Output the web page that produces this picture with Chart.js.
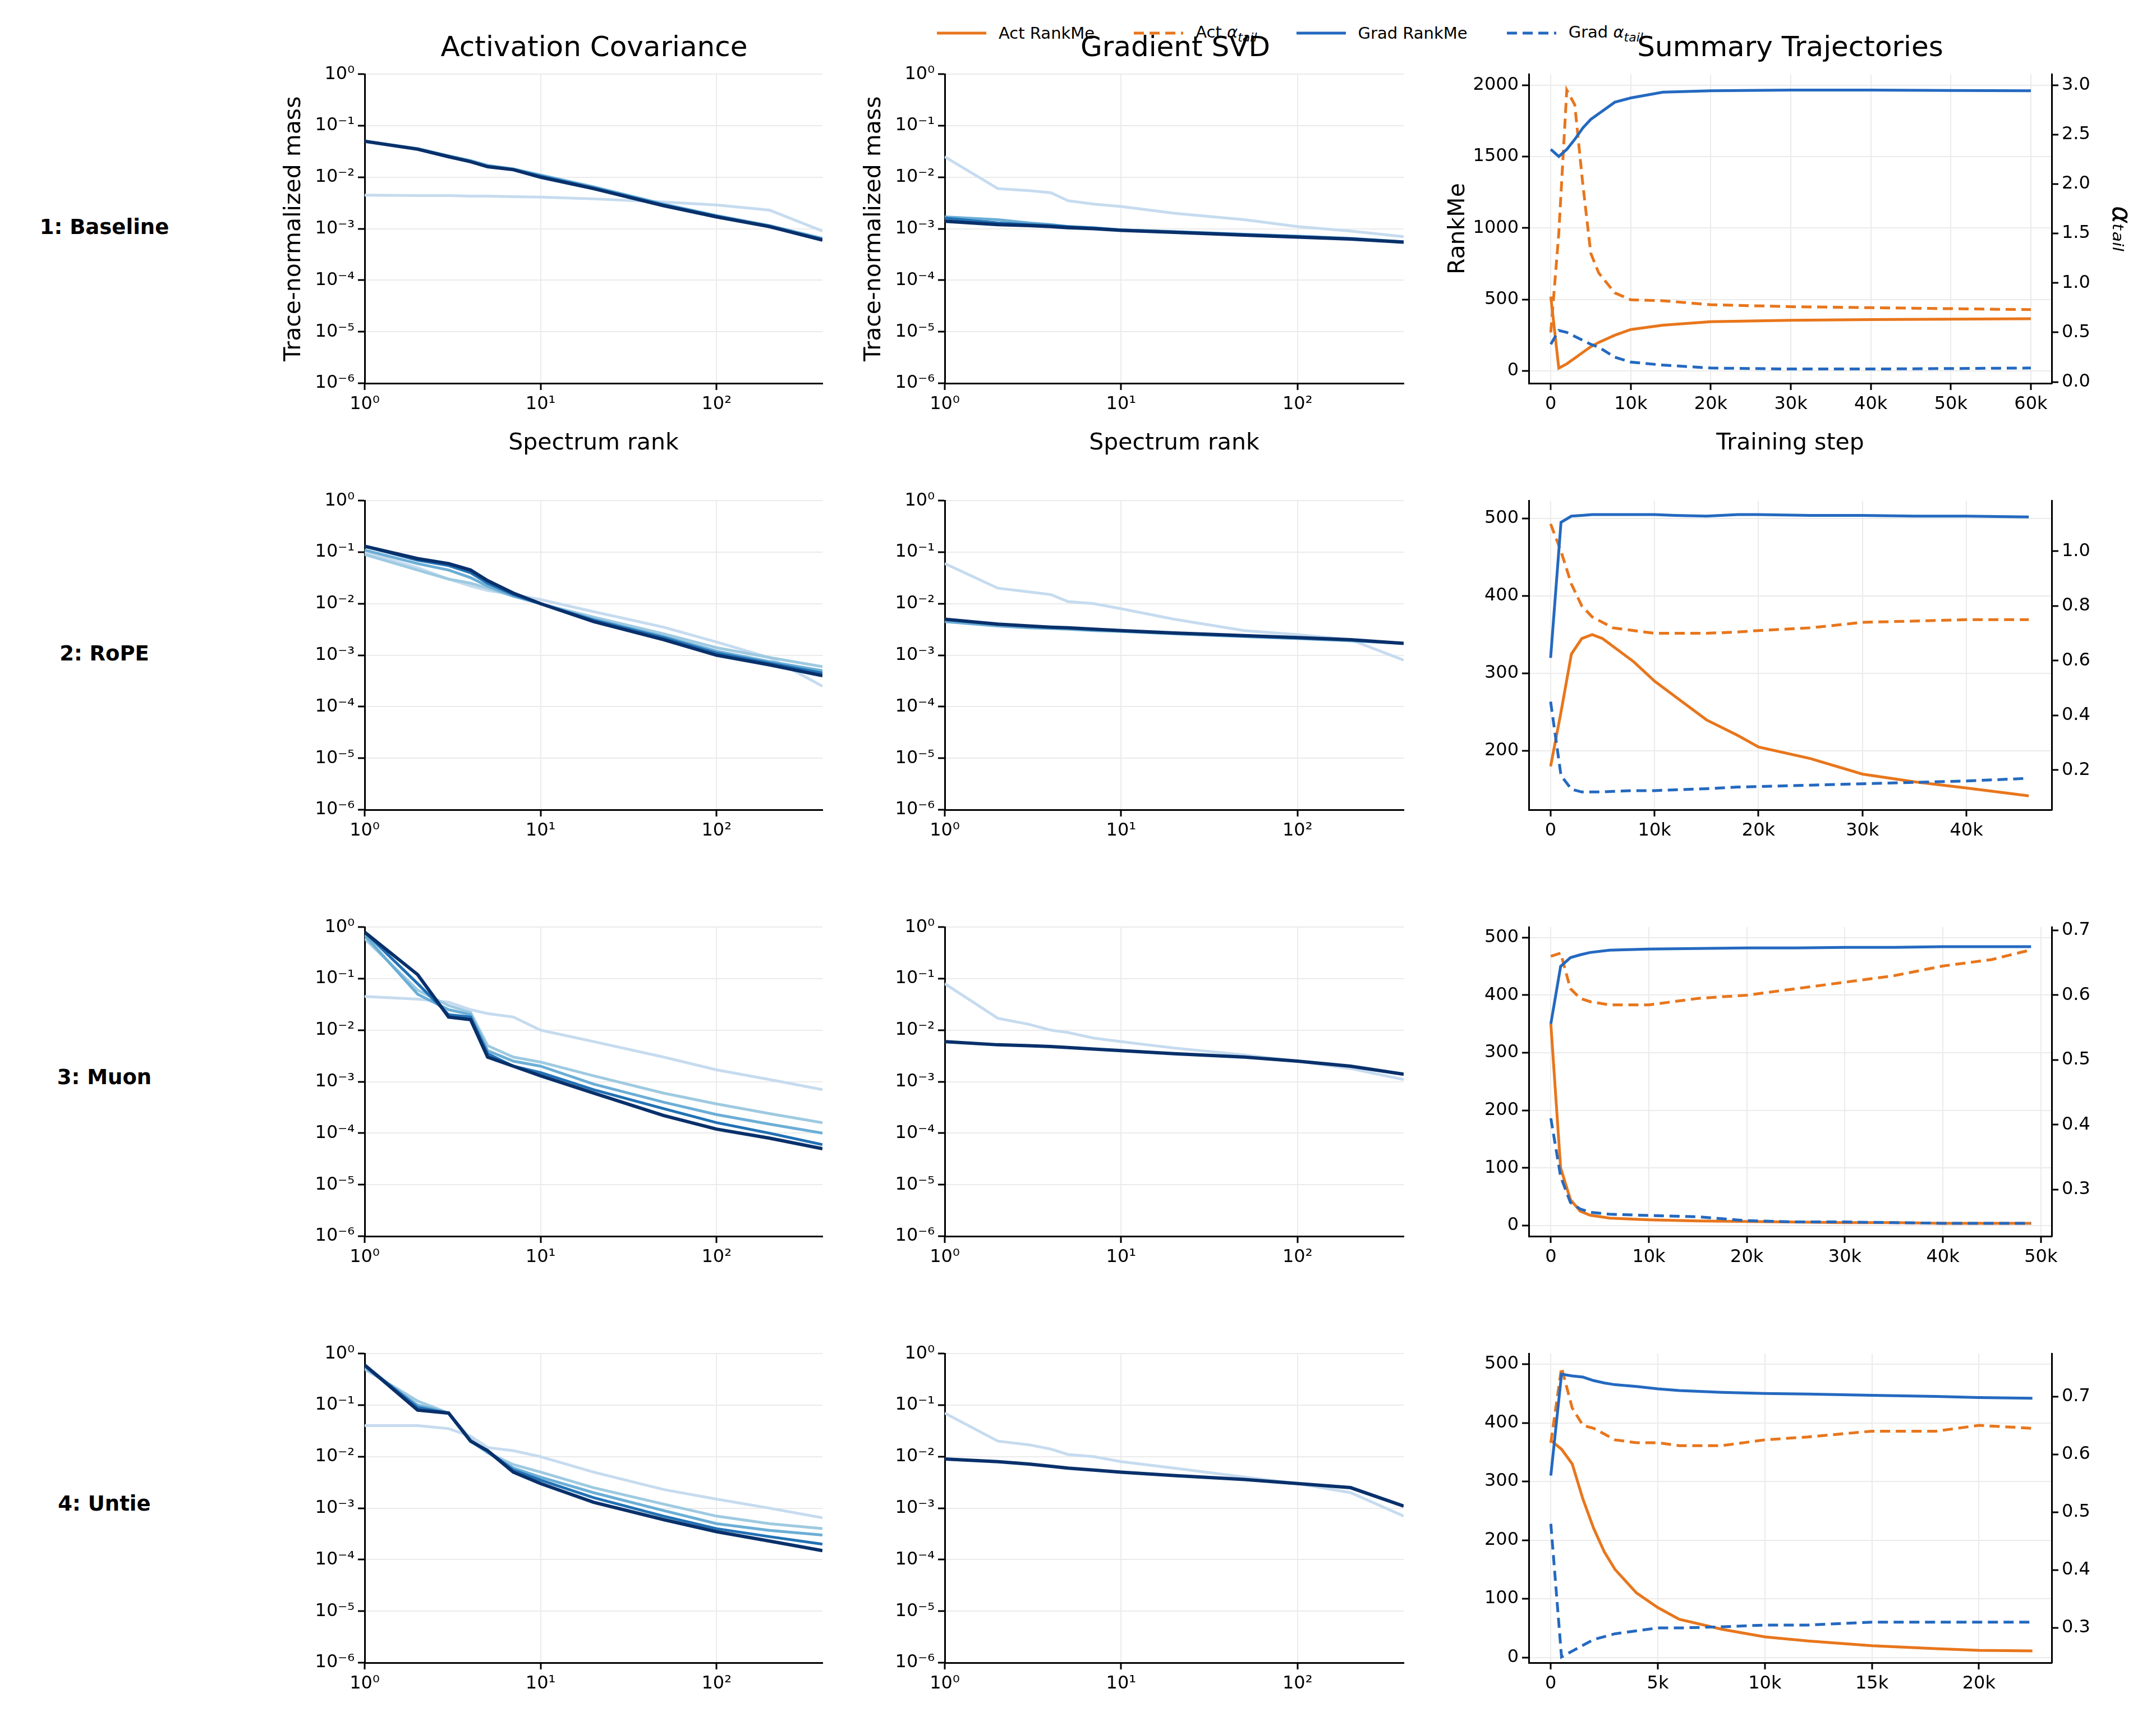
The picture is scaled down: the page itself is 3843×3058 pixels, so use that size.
<!DOCTYPE html>
<html><head><meta charset="utf-8">
<script src="https://cdn.jsdelivr.net/npm/chart.js@4/dist/chart.umd.min.js"></script>
<style>
body{margin:0;background:#fff;width:3843px;height:3058px;position:relative;font-family:"DejaVu Sans",sans-serif;overflow:hidden}
.abs{position:absolute;white-space:nowrap}
.ct{font-size:50px;transform:translate(-50%,-50%)}
.rl{font-size:37px;font-weight:bold;transform:translate(-50%,-50%)}
#leg{left:1670px;top:40px;display:flex;gap:70px;font-size:29px;align-items:center}
#leg>span{display:flex;align-items:center;gap:22px}
sub{font-size:22px}
</style></head><body>
<div class="abs ct" style="left:1059px;top:83px">Activation Covariance</div>
<div class="abs ct" style="left:2095px;top:83px">Gradient SVD</div>
<div class="abs ct" style="left:3191px;top:83px">Summary Trajectories</div>
<div class="abs rl" style="left:186px;top:404px">1: Baseline</div>
<div class="abs rl" style="left:186px;top:1164px">2: RoPE</div>
<div class="abs rl" style="left:186px;top:1919px">3: Muon</div>
<div class="abs rl" style="left:186px;top:2679px">4: Untie</div>
<div id="leg" class="abs">
<span><svg width="88" height="12"><line x1="0" y1="6" x2="88" y2="6" stroke="#e8761c" stroke-width="5"/></svg><span>Act RankMe</span></span>
<span><svg width="88" height="12"><line x1="0" y1="6" x2="88" y2="6" stroke="#e8761c" stroke-width="5" stroke-dasharray="18,10"/></svg><span>Act <i>α<sub>tail</sub></i></span></span>
<span><svg width="88" height="12"><line x1="0" y1="6" x2="88" y2="6" stroke="#2469c0" stroke-width="5"/></svg><span>Grad RankMe</span></span>
<span><svg width="88" height="12"><line x1="0" y1="6" x2="88" y2="6" stroke="#2469c0" stroke-width="5" stroke-dasharray="18,10"/></svg><span>Grad <i>α<sub>tail</sub></i></span></span>
</div>
<script>
const ranks=[1,2,3,4,5,7,10,20,50,100,200,400];
// Row 1
const a1_1=[4.5e-3,4.4e-3,4.4e-3,4.3e-3,4.3e-3,4.2e-3,4.1e-3,3.8e-3,3.3e-3,2.9e-3,2.3e-3,9e-4];
const a1_2=[5e-2,3.6e-2,2.6e-2,2.1e-2,1.7e-2,1.45e-2,1.1e-2,6.5e-3,3e-3,1.8e-3,1.15e-3,6.5e-4];
const a1_3=[5e-2,3.5e-2,2.5e-2,2e-2,1.6e-2,1.4e-2,1.05e-2,6.2e-3,2.9e-3,1.75e-3,1.1e-3,6.2e-4];
const a1_4=[5e-2,3.5e-2,2.5e-2,2e-2,1.6e-2,1.4e-2,1e-2,6e-3,2.8e-3,1.7e-3,1.1e-3,6e-4];
const g1_1=[2.5e-2,6e-3,5.5e-3,5e-3,3.5e-3,3e-3,2.7e-3,2e-3,1.5e-3,1.1e-3,9e-4,7e-4];
const g1_2=[1.7e-3,1.5e-3,1.3e-3,1.2e-3,1.1e-3,1.05e-3,9.5e-4,8.8e-4,7.8e-4,7.2e-4,6.5e-4,5.6e-4];
const g1_3=[1.6e-3,1.3e-3,1.2e-3,1.15e-3,1.1e-3,1.03e-3,9.5e-4,8.7e-4,7.7e-4,7e-4,6.4e-4,5.5e-4];
const g1_4=[1.4e-3,1.2e-3,1.15e-3,1.1e-3,1.05e-3,1e-3,9.3e-4,8.5e-4,7.5e-4,6.9e-4,6.3e-4,5.5e-4];
// Row 2
const a2_1=[1e-1,5e-2,3e-2,2.2e-2,1.8e-2,1.5e-2,1.2e-2,7e-3,3.5e-3,1.8e-3,9e-4,2.5e-4];
const a2_2=[9e-2,4.5e-2,3e-2,2.5e-2,2e-2,1.4e-2,1e-2,5.5e-3,2.6e-3,1.4e-3,9e-4,6e-4];
const a2_3=[1.1e-1,6e-2,4.5e-2,3.2e-2,2.2e-2,1.4e-2,1e-2,5e-3,2.3e-3,1.2e-3,7.5e-4,5e-4];
const a2_4=[1.3e-1,7e-2,5.5e-2,4e-2,2.5e-2,1.5e-2,1e-2,4.8e-3,2.2e-3,1.1e-3,7e-4,4.5e-4];
const a2_5=[1.3e-1,7.5e-2,6e-2,4.5e-2,2.8e-2,1.6e-2,1e-2,4.5e-3,2e-3,1e-3,6.5e-4,4e-4];
const g2_1=[6e-2,2e-2,1.7e-2,1.5e-2,1.1e-2,1e-2,8e-3,5e-3,3e-3,2.5e-3,2e-3,8e-4];
const g2_2=[4.5e-3,3.7e-3,3.4e-3,3.3e-3,3.2e-3,3e-3,2.9e-3,2.6e-3,2.3e-3,2.1e-3,1.9e-3,1.7e-3];
const g2_3=[5e-3,4e-3,3.7e-3,3.5e-3,3.4e-3,3.2e-3,3e-3,2.7e-3,2.4e-3,2.2e-3,2e-3,1.7e-3];
// Row 3
const a3_1=[4.5e-2,4e-2,3.5e-2,2.5e-2,2.1e-2,1.8e-2,1e-2,6e-3,3e-3,1.7e-3,1.1e-3,7e-4];
const a3_2=[6e-1,6e-2,3e-2,2.2e-2,5e-3,3e-3,2.4e-3,1.3e-3,6e-4,3.7e-4,2.4e-4,1.6e-4];
const a3_3=[7e-1,5e-2,2.5e-2,2e-2,4e-3,2.5e-3,2e-3,9e-4,4e-4,2.3e-4,1.5e-4,1e-4];
const a3_4=[8e-1,8e-2,2e-2,1.8e-2,3.5e-3,2e-3,1.5e-3,7e-4,3e-4,1.6e-4,1e-4,6e-5];
const a3_5=[8e-1,1.2e-1,1.8e-2,1.6e-2,3e-3,2e-3,1.3e-3,6e-4,2.2e-4,1.2e-4,8e-5,5e-5];
const g3_1=[8e-2,1.7e-2,1.3e-2,1e-2,9e-3,7e-3,6e-3,4.5e-3,3.3e-3,2.5e-3,1.8e-3,1.1e-3];
const g3_2=[6e-3,5.2e-3,5e-3,4.8e-3,4.6e-3,4.3e-3,4e-3,3.5e-3,3e-3,2.5e-3,2e-3,1.4e-3];
// Row 4
const a4_1=[4e-2,4e-2,3.5e-2,2.5e-2,1.5e-2,1.3e-2,1e-2,5e-3,2.3e-3,1.5e-3,1e-3,6.5e-4];
const a4_2=[5e-1,1.2e-1,7e-2,2.2e-2,1.2e-2,7e-3,5e-3,2.5e-3,1.2e-3,7e-4,5e-4,4e-4];
const a4_3=[5.5e-1,1e-1,7e-2,2e-2,1.2e-2,6e-3,4e-3,2e-3,9e-4,5e-4,3.7e-4,3e-4];
const a4_4=[6e-1,9e-2,7e-2,2e-2,1.3e-2,5.5e-3,3.5e-3,1.6e-3,7e-4,4e-4,2.8e-4,2e-4];
const a4_5=[6e-1,8e-2,7e-2,2e-2,1.3e-2,5e-3,3e-3,1.3e-3,6e-4,3.5e-4,2.3e-4,1.5e-4];
const g4_1=[7e-2,2e-2,1.7e-2,1.4e-2,1.1e-2,1e-2,8e-3,6e-3,4e-3,3e-3,2e-3,7e-4];
const g4_2=[9e-3,8e-3,7.2e-3,6.5e-3,6e-3,5.5e-3,5e-3,4.3e-3,3.6e-3,3e-3,2.5e-3,1.1e-3];
// Trajectories
const steps1=[0,1000,2000,3000,4000,5000,6000,8000,10000,14000,20000,30000,40000,50000,60000];
const actRank1=[520,20,50,90,130,170,200,250,290,320,345,355,360,362,365];
const actAlpha1=[0.5,1.5,2.95,2.8,2.0,1.3,1.1,0.9,0.83,0.82,0.78,0.76,0.75,0.74,0.73];
const gradRank1=[1550,1500,1550,1620,1700,1760,1800,1880,1910,1950,1960,1965,1965,1962,1960];
const gradAlpha1=[0.38,0.52,0.5,0.46,0.42,0.38,0.35,0.25,0.2,0.17,0.14,0.13,0.13,0.135,0.14];
const steps2=[0,1000,2000,3000,4000,5000,6000,8000,10000,12000,15000,18000,20000,25000,30000,35000,40000,46000];
const actRank2=[180,250,325,345,350,345,335,315,290,270,240,220,205,190,170,160,152,142];
const actAlpha2=[1.1,1.0,0.88,0.8,0.76,0.74,0.72,0.71,0.7,0.7,0.7,0.705,0.71,0.72,0.74,0.745,0.75,0.75];
const gradRank2=[320,495,503,504,505,505,505,505,505,504,503,505,505,504,504,503,503,502];
const gradAlpha2=[0.45,0.18,0.13,0.12,0.12,0.12,0.122,0.125,0.125,0.128,0.132,0.138,0.14,0.145,0.15,0.155,0.16,0.17];
const steps3=[0,1000,2000,3000,4000,6000,10000,15000,20000,25000,30000,35000,40000,45000,49000];
const actRank3=[350,100,45,25,18,13,10,8,7,6,5,5,4,4,4];
const actAlpha3=[0.66,0.665,0.61,0.595,0.59,0.585,0.585,0.595,0.6,0.61,0.62,0.63,0.645,0.655,0.67];
const gradRank3=[350,450,465,470,474,478,480,481,482,482,483,483,484,484,484];
const gradAlpha3=[0.41,0.32,0.28,0.27,0.265,0.262,0.26,0.258,0.252,0.25,0.25,0.249,0.248,0.248,0.248];
const steps4=[0,500,1000,1500,2000,2500,3000,4000,5000,6000,8000,10000,12000,15000,18000,20000,22500];
const actRank4=[370,355,330,270,220,180,150,110,85,65,48,35,28,20,15,12,11];
const actAlpha4=[0.62,0.75,0.68,0.65,0.645,0.635,0.625,0.62,0.62,0.615,0.615,0.625,0.63,0.64,0.64,0.65,0.645];
const gradRank4=[310,483,480,478,472,468,465,462,458,455,452,450,449,447,445,443,442];
const gradAlpha4=[0.48,0.25,0.26,0.27,0.28,0.285,0.29,0.295,0.3,0.3,0.302,0.305,0.305,0.31,0.31,0.31,0.31];

const C={l:'#c6dbef',b:'#9ecae1',m:'#6baed6',n:'#4292c6',s:'#2171b5',d:'#08306b'};
const ORANGE='#e8761c',BLUE='#2469c0';
const L=[650,1684,2725],W=[816,818,932],T=[127,887,1647,2407],H=556;
const FONT={family:'"DejaVu Sans", sans-serif'};
const sup={'0':'⁰','1':'¹','2':'²','3':'³','4':'⁴','5':'⁵','6':'⁶','7':'⁷','8':'⁸','9':'⁹','-':'⁻'};
function pow10(v){const e=Math.round(Math.log10(v));return '10'+String(e).split('').map(c=>sup[c]).join('');}
function fixTicks(list){return axis=>{axis.ticks=list.map(v=>({value:v}));};}
function stepTicks(step){return axis=>{const out=[];for(let v=Math.ceil(axis.min/step-1e-9)*step;v<=axis.max+1e-9;v+=step)out.push({value:+v.toFixed(6)});axis.ticks=out;};}
const grid={color:'#ebebeb',lineWidth:2,tickColor:'#000',tickLength:12,tickWidth:3};
const tickFont={size:32,...FONT};
const titleFont={size:41,...FONT};

function makeWrap(row,col,pl,pr,pt,pb){
  const d=document.createElement('div');
  d.className='abs';
  const w=W[col]+pl+pr,h=H+pt+pb;
  d.style.left=(L[col]-pl)+'px';d.style.top=(T[row]-pt)+'px';
  d.style.width=w+'px';d.style.height=h+'px';
  const c=document.createElement('canvas');c.width=w;c.height=h;
  c.style.width=w+'px';c.style.height=h+'px';
  d.appendChild(c);document.body.appendChild(d);return c;
}
function spec(row,col,lines,showTitles){
  const pl=150,pr=20,pt=20,pb=132;
  const cv=makeWrap(row,col,pl,pr,pt,pb);
  new Chart(cv,{type:'line',
    data:{datasets:lines.map(([vals,color],i)=>({data:ranks.map((r,k)=>({x:r,y:vals[k]})),order:lines.length-i,borderColor:color,borderWidth:color===C.d?6:5,pointRadius:0,tension:0,fill:false}))},
    options:{responsive:false,animation:false,devicePixelRatio:1,
      layout:{padding:{top:pt,right:pr,left:0,bottom:0}},
      plugins:{legend:{display:false},tooltip:{enabled:false}},
      scales:{
        x:{type:'logarithmic',min:1,max:400,afterBuildTicks:fixTicks([1,10,100]),afterFit:s=>{s.height=pb;},
          grid,border:{color:'#000',width:3},
          ticks:{font:tickFont,color:'#000',callback:v=>pow10(v),maxRotation:0,padding:6},
          title:{display:showTitles,text:'Spectrum rank',font:titleFont,color:'#000',padding:{top:4,bottom:0}}},
        y:{type:'logarithmic',min:1e-6,max:1,afterBuildTicks:fixTicks([1e-6,1e-5,1e-4,1e-3,1e-2,1e-1,1]),afterFit:s=>{s.width=pl;},
          grid,border:{color:'#000',width:3},
          ticks:{font:tickFont,color:'#000',callback:v=>pow10(v),padding:6},
          title:{display:showTitles,text:'Trace-normalized mass',font:titleFont,color:'#000',padding:{bottom:0,top:0}}}
      }}});
}
function traj(row,cfg,first){
  const pl=150,pr=150,pt=20,pb=132;
  const cv=makeWrap(row,2,pl,pr,pt,pb);
  const mk=(vals,color,dash,axis,o)=>({data:cfg.steps.map((s,i)=>({x:s,y:vals[i]})),order:o,borderColor:color,borderWidth:5,borderDash:dash?[18,10]:[],pointRadius:0,tension:0,yAxisID:axis});
  new Chart(cv,{type:'line',
    data:{datasets:[mk(cfg.ar,ORANGE,false,'y',4),mk(cfg.aa,ORANGE,true,'y2',3),mk(cfg.gr,BLUE,false,'y',2),mk(cfg.ga,BLUE,true,'y2',1)]},
    options:{responsive:false,animation:false,devicePixelRatio:1,
      layout:{padding:{top:pt,right:0,left:0,bottom:0}},
      plugins:{legend:{display:false},tooltip:{enabled:false}},
      scales:{
        x:{type:'linear',min:cfg.xr[0],max:cfg.xr[1],afterBuildTicks:stepTicks(cfg.xs),afterFit:s=>{s.height=pb;},
          grid,border:{color:'#000',width:3},
          ticks:{font:tickFont,color:'#000',callback:v=>v===0?'0':(v/1000)+'k',maxRotation:0,padding:6},
          title:{display:first,text:'Training step',font:titleFont,color:'#000',padding:{top:4,bottom:0}}},
        y:{type:'linear',position:'left',min:cfg.yr[0],max:cfg.yr[1],afterBuildTicks:stepTicks(cfg.ys),afterFit:s=>{s.width=pl;},
          grid,border:{color:'#000',width:3},
          ticks:{font:tickFont,color:'#000',padding:6,callback:v=>String(v)},
          title:{display:first,text:'RankMe',font:titleFont,color:'#000',padding:{bottom:0,top:0}}},
        y2:{type:'linear',position:'right',min:cfg.y2r[0],max:cfg.y2r[1],afterBuildTicks:stepTicks(cfg.y2s),afterFit:s=>{s.width=pr;},
          grid:{...grid,drawOnChartArea:false},border:{color:'#000',width:3},
          ticks:{font:tickFont,color:'#000',padding:6,callback:v=>v.toFixed(1)},
          title:{display:first,text:'αₜₐᵢₗ',font:{...titleFont,size:48,style:'italic'},color:'#000',padding:{top:0,bottom:0}}}
      }}});
}
spec(0,0,[[a1_1,C.l],[a1_2,C.m],[a1_3,C.s],[a1_4,C.d]],true);
spec(0,1,[[g1_1,C.l],[g1_2,C.m],[g1_3,C.s],[g1_4,C.d]],true);
spec(1,0,[[a2_1,C.l],[a2_2,C.b],[a2_3,C.m],[a2_4,C.s],[a2_5,C.d]],false);
spec(1,1,[[g2_1,C.l],[g2_2,C.m],[g2_3,C.d]],false);
spec(2,0,[[a3_1,C.l],[a3_2,C.b],[a3_3,C.m],[a3_4,C.s],[a3_5,C.d]],false);
spec(2,1,[[g3_1,C.l],[g3_2,C.d]],false);
spec(3,0,[[a4_1,C.l],[a4_2,C.b],[a4_3,C.m],[a4_4,C.s],[a4_5,C.d]],false);
spec(3,1,[[g4_1,C.l],[g4_2,C.d]],false);
traj(0,{steps:steps1,ar:actRank1,aa:actAlpha1,gr:gradRank1,ga:gradAlpha1,xr:[-2750,62600],xs:10000,yr:[-86,2076],ys:500,y2r:[-0.014,3.11],y2s:0.5},true);
traj(1,{steps:steps2,ar:actRank2,aa:actAlpha2,gr:gradRank2,ga:gradAlpha2,xr:[-2100,48200],xs:10000,yr:[124,523],ys:100,y2r:[0.055,1.185],y2s:0.2},false);
traj(2,{steps:steps3,ar:actRank3,aa:actAlpha3,gr:gradRank3,ga:gradAlpha3,xr:[-2250,51100],xs:10000,yr:[-18.5,518],ys:100,y2r:[0.228,0.705],y2s:0.1},false);
traj(3,{steps:steps4,ar:actRank4,aa:actAlpha4,gr:gradRank4,ga:gradAlpha4,xr:[-1030,23400],xs:5000,yr:[-9,518],ys:100,y2r:[0.24,0.774],y2s:0.1},false);
</script>
</body></html>
